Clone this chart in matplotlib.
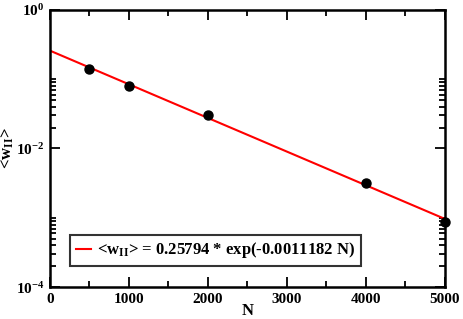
import numpy as np
import matplotlib
matplotlib.use("Agg")
from matplotlib import pyplot as plt
from matplotlib.ticker import LogLocator, FixedLocator, MultipleLocator, NullFormatter

plt.rcParams['font.family'] = ['Liberation Serif', 'DejaVu Serif']
plt.rcParams['font.weight'] = 'bold'
plt.rcParams['mathtext.fontset'] = 'custom'
plt.rcParams['mathtext.rm'] = 'Liberation Serif:bold'
plt.rcParams['mathtext.it'] = 'Liberation Serif:bold'
plt.rcParams['mathtext.bf'] = 'Liberation Serif:bold'

# measured points
n_vals = [500, 1000, 2000, 4000, 5000]
w_vals = [0.140, 0.081, 0.0305, 0.00314, 0.00088]

# fit parameters (from legend)
fit_a = 0.25794
fit_b = -0.0011182

y_ticks = [1e-4, 1e-2, 1e0]
y_ticklabels = [r'$10^{-4}$', r'$10^{-2}$', r'$10^{0}$']
x_ticks = [0, 1000, 2000, 3000, 4000, 5000]

fig = plt.figure(figsize=(4.63, 3.19), dpi=100)
ax = fig.add_axes([0.108, 0.100, 0.853, 0.869])

nn = np.linspace(0, 5000, 200)
ax.plot(nn, fit_a * np.exp(fit_b * nn), color='#ff0000', lw=1.5,
        label=r'<w$_{\mathrm{II}}$> = 0.25794 * exp(-0.0011182 N)')
ax.plot(n_vals, w_vals, 'o', color='black', ms=6.5, clip_on=False, zorder=5)

ax.set_yscale('log')
ax.set_xlim(0, 5000)
ax.set_ylim(1e-4, 1e0)
ax.yaxis.set_major_locator(FixedLocator(y_ticks))
ax.set_yticklabels(y_ticklabels)
ax.yaxis.set_minor_locator(LogLocator(base=100, subs=[2, 3, 4, 5, 6, 7, 8, 9, 10]))
ax.yaxis.set_minor_formatter(NullFormatter())
ax.set_xticks(x_ticks)
ax.xaxis.set_minor_locator(MultipleLocator(500))

ax.tick_params(which='both', direction='in', top=True, right=True, width=1.3)
ax.tick_params(axis='x', labelsize=11, pad=4)
ax.tick_params(axis='y', labelsize=11, pad=4)
ax.tick_params(which='major', length=7)
ax.tick_params(which='minor', length=4)
for s in ax.spines.values():
    s.set_linewidth(1.8)

ax.set_xlabel('N', fontsize=12, fontweight='bold', labelpad=-2)
ax.set_ylabel(r'<w$_{\mathrm{II}}$>', fontsize=12, fontweight='bold', labelpad=0)

leg = ax.legend(loc='lower left', bbox_to_anchor=(0.05, 0.075), fontsize=12, frameon=True,
                fancybox=False, handlelength=0.9, handletextpad=0.4, borderpad=0.35,
                borderaxespad=0)
leg.get_frame().set_edgecolor('black')
leg.get_frame().set_linewidth(1.5)

fig.savefig('out.png', dpi=100)
